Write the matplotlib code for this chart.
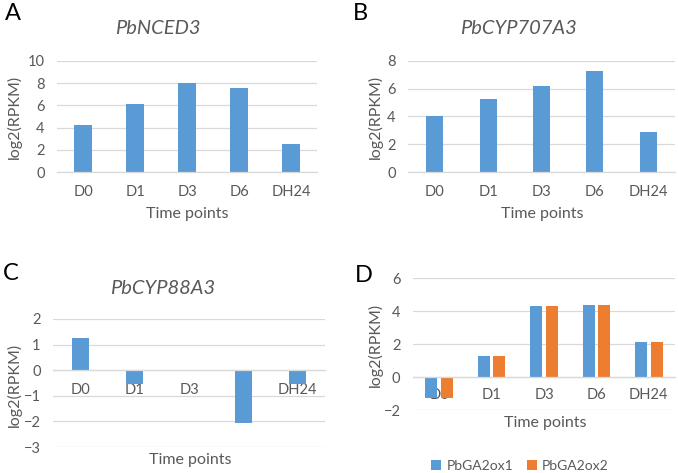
"""Expression profiles (log2 RPKM) of ABA/GA metabolism genes across time points."""

import matplotlib
matplotlib.use("Agg")
import matplotlib.pyplot as plt

# ---------------------------------------------------------------------------
# Data
# ---------------------------------------------------------------------------
time_points = ["D0", "D1", "D3", "D6", "DH24"]

nced3 = [4.25, 6.15, 8.0, 7.6, 2.5]
cyp707a3 = [4.0, 5.25, 6.2, 7.3, 2.85]
cyp88a3 = [1.25, -0.55, 0.0, -2.05, -0.55]
ga2ox1 = [-1.3, 1.3, 4.3, 4.35, 2.15]
ga2ox2 = [-1.3, 1.3, 4.3, 4.35, 2.15]

BLUE = "#5B9BD5"
ORANGE = "#ED7D31"
TEXT = "#595959"
GRID = "#D9D9D9"

plt.rcParams["font.family"] = ["Lato", "DejaVu Sans"]

W, H = 678, 473
fig = plt.figure(figsize=(W / 100, H / 100), dpi=100)


def px_axes(x0, y0, x1, y1):
    """Axes from pixel box (top-left origin)."""
    return fig.add_axes([x0 / W, 1 - y1 / H, (x1 - x0) / W, (y1 - y0) / H])


def style(ax, ylim, step):
    ax.set_xlim(-0.5, len(time_points) - 0.5)
    ax.set_ylim(*ylim)
    ax.set_yticks(range(ylim[0], ylim[1] + 1, step))
    ax.set_xticks(range(len(time_points)))
    ax.set_xticklabels(time_points)
    ax.yaxis.grid(True, color=GRID, linewidth=0.9)
    ax.set_axisbelow(True)
    for side in ("top", "right", "left"):
        ax.spines[side].set_visible(False)
    ax.spines["bottom"].set_color(GRID)
    ax.spines["bottom"].set_linewidth(0.9)
    ax.spines["bottom"].set_position(("data", 0))
    ax.tick_params(axis="both", length=0, labelsize=10.5, labelcolor=TEXT)
    ax.tick_params(axis="x", pad=9)
    ax.tick_params(axis="y", pad=9)


def ftext(x, y, s, **kw):
    fig.text(x / W, 1 - y / H, s, ha="center", va="center", color=TEXT, **kw)


LBL = 11.5
TTL = 14.5
LET = 17

# --- A ---------------------------------------------------------------------
axA = px_axes(57, 61, 317, 172)
axA.bar(range(5), nced3, width=0.35, color=BLUE, zorder=2)
style(axA, (0, 10), 2)
ftext(158, 28, "PbNCED3", fontsize=TTL, style="italic")
ftext(14, 117, "log2(RPKM)", fontsize=LBL, rotation=90)
ftext(187, 214, "Time points", fontsize=LBL)
fig.text(5 / W, 1 - 14 / H, "A", fontsize=LET, ha="left", va="center", color="black")

# --- B ---------------------------------------------------------------------
axB = px_axes(408, 61, 675, 172)
axB.bar(range(5), cyp707a3, width=0.32, color=BLUE, zorder=2)
style(axB, (0, 8), 2)
ftext(518, 28, "PbCYP707A3", fontsize=TTL, style="italic")
ftext(375, 117, "log2(RPKM)", fontsize=LBL, rotation=90)
ftext(542, 214, "Time points", fontsize=LBL)
fig.text(353 / W, 1 - 14 / H, "B", fontsize=LET, ha="left", va="center", color="black")

# --- C ---------------------------------------------------------------------
axC = px_axes(53, 319, 325, 447)
axC.bar(range(5), cyp88a3, width=0.31, color=BLUE, zorder=2)
style(axC, (-3, 2), 1)
ftext(163, 288, "PbCYP88A3", fontsize=TTL, style="italic")
ftext(14, 385, "log2(RPKM)", fontsize=LBL, rotation=90)
ftext(190, 460, "Time points", fontsize=LBL)
fig.text(3 / W, 1 - 273 / H, "C", fontsize=LET, ha="left", va="center", color="black")

# --- D ---------------------------------------------------------------------
axD = px_axes(413, 278, 675, 410)
xs = range(5)
axD.bar([x - 0.15 for x in xs], ga2ox1, width=0.23, color=BLUE, zorder=2, label="PbGA2ox1")
axD.bar([x + 0.15 for x in xs], ga2ox2, width=0.23, color=ORANGE, zorder=2, label="PbGA2ox2")
style(axD, (-2, 6), 2)
axD.tick_params(axis="x", pad=8)
ftext(375, 345, "log2(RPKM)", fontsize=LBL, rotation=90)
ftext(545, 423, "Time points", fontsize=LBL)
fig.text(355 / W, 1 - 276 / H, "D", fontsize=LET, ha="left", va="center", color="black")
leg = fig.legend(loc="center", bbox_to_anchor=(520 / W, 1 - 466 / H), ncol=2,
                 frameon=False, fontsize=10, handlelength=0.7, handleheight=0.7,
                 handletextpad=0.4, columnspacing=1.0)
for t in leg.get_texts():
    t.set_color(TEXT)

fig.savefig("out.png", dpi=100)
